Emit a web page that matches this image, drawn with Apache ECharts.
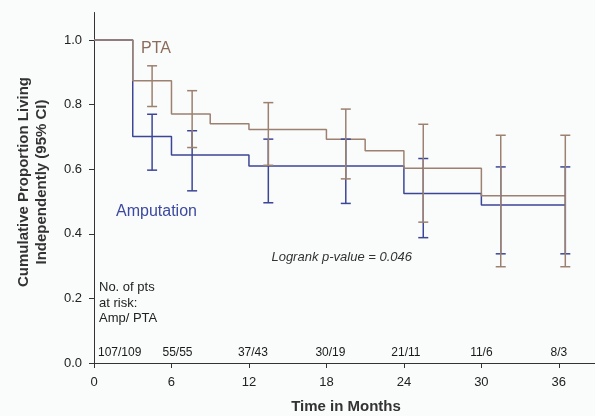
<!DOCTYPE html>
<html>
<head>
<meta charset="utf-8">
<script src="https://cdn.jsdelivr.net/npm/echarts@6/dist/echarts.min.js"></script>
<style>
  html, body { margin: 0; padding: 0; background: #fafbfb; }
  #chart { width: 595px; height: 416px; }
</style>
</head>
<body>
<div id="chart"></div>
<script>
// Kaplan-Meier steps (month, proportion)
var ptaTimes = [0, 3, 6, 9, 12, 18, 21, 24, 30, 36.5];
var ptaSurv = [1.0, 0.874, 0.771, 0.741, 0.723, 0.693, 0.657, 0.603, 0.518, 0.518];
var ampTimes = [0, 3, 6, 12, 24, 30, 36.5];
var ampSurv = [1.0, 0.701, 0.644, 0.610, 0.525, 0.489, 0.489];

// 95% CI bars
var ciMonths = [4.5, 7.6, 13.5, 19.5, 25.5, 31.5, 36.5];
var ptaLow = [0.794, 0.667, 0.612, 0.570, 0.436, 0.298, 0.298];
var ptaHigh = [0.920, 0.843, 0.806, 0.786, 0.739, 0.705, 0.705];
var ampLow = [0.597, 0.533, 0.496, 0.494, 0.388, 0.338, 0.338];
var ampHigh = [0.770, 0.719, 0.693, 0.693, 0.633, 0.607, 0.607];

// patients at risk
var riskMonths = [0, 6, 12, 18, 24, 30, 36];
var riskLabels = ['107/109', '55/55', '37/43', '30/19', '21/11', '11/6', '8/3'];

var xTicks = [0, 6, 12, 18, 24, 30, 36];
var yTicks = [0, 0.2, 0.4, 0.6, 0.8, 1.0];

var ptaColor = '#9c8070';
var ampColor = '#3c4697';
var font = 'Liberation Sans, Arial, sans-serif';
var riskOffsets = [[4, -10, 'left'], [6, -10, 'center'], [4, -10, 'center'], [4, -10, 'center'], [2, -10, 'center'], [0, -10, 'center'], [0, -10, 'center']];

function steps(t, s) {
  return t.map(function (v, i) { return [v, s[i]]; });
}
function ci(lo, hi) {
  return ciMonths.map(function (m, i) { return [m, lo[i], hi[i]]; });
}

function ciBar(color) {
  return function (params, api) {
    var top = api.coord([api.value(0), api.value(2)]);
    var bot = api.coord([api.value(0), api.value(1)]);
    var w = 5;
    var st = { stroke: color, lineWidth: 1.5 };
    return {
      type: 'group',
      children: [
        { type: 'line', shape: { x1: top[0], y1: top[1], x2: bot[0], y2: bot[1] }, style: st },
        { type: 'line', shape: { x1: top[0] - w, y1: top[1], x2: top[0] + w, y2: top[1] }, style: st },
        { type: 'line', shape: { x1: bot[0] - w, y1: bot[1], x2: bot[0] + w, y2: bot[1] }, style: st }
      ]
    };
  };
}

var chart = echarts.init(document.getElementById('chart'));

var option = {
  backgroundColor: '#fafbfb',
  animation: false,
  textStyle: { fontFamily: font },
  grid: { left: 94, right: 0, top: 12.5, bottom: 53 },
  xAxis: {
    type: 'value',
    min: 0,
    max: 38.8,
    axisLine: { lineStyle: { color: '#333', width: 1 } },
    axisTick: { show: true, length: 5, customValues: xTicks, lineStyle: { color: '#333' } },
    axisLabel: { customValues: xTicks, color: '#222', fontSize: 13, margin: 13, fontFamily: font },
    splitLine: { show: false }
  },
  yAxis: {
    type: 'value',
    min: 0,
    max: 1.085,
    axisLine: { show: true, lineStyle: { color: '#333', width: 1 } },
    axisTick: { show: true, length: 5, customValues: yTicks, lineStyle: { color: '#333' } },
    axisLabel: {
      customValues: yTicks, color: '#222', fontSize: 13, margin: 12, fontFamily: font,
      formatter: function (v) { return v.toFixed(1); }
    },
    splitLine: { show: false }
  },
  series: [
    {
      type: 'line', step: 'end', showSymbol: false, data: steps(ampTimes, ampSurv),
      lineStyle: { color: ampColor, width: 1.5 }, z: 2
    },
    {
      type: 'line', step: 'end', showSymbol: false, data: steps(ptaTimes, ptaSurv),
      lineStyle: { color: ptaColor, width: 1.5 }, z: 3
    },
    { type: 'custom', renderItem: ciBar(ampColor), data: ci(ampLow, ampHigh), z: 4 },
    { type: 'custom', renderItem: ciBar(ptaColor), data: ci(ptaLow, ptaHigh), z: 5 },
    {
      type: 'scatter', symbolSize: 0, silent: true, z: 6,
      itemStyle: { color: '#222', opacity: 1 },
      data: riskMonths.map(function (m, i) {
        return {
          value: [m, 0],
          label: {
            show: true, position: 'inside', formatter: riskLabels[i],
            offset: [riskOffsets[i][0], riskOffsets[i][1]], align: riskOffsets[i][2],
            color: '#1a1a1a', opacity: 1, textBorderWidth: 0, fontSize: 12, fontFamily: font
          }
        };
      })
    }
  ],
  graphic: [
    {
      type: 'text', x: 32.5, y: 182, rotation: Math.PI / 2,
      style: {
        text: 'Cumulative Proportion Living\nIndependently (95% CI)',
        fontSize: 15, fontWeight: 'bold', fontFamily: font, fill: '#333',
        align: 'center', verticalAlign: 'middle', lineHeight: 18
      }
    },
    {
      type: 'text', x: 346, y: 407,
      style: {
        text: 'Time in Months', fontSize: 15, fontWeight: 'bold', fontFamily: font,
        fill: '#333', align: 'center', verticalAlign: 'middle'
      }
    },
    {
      type: 'text', x: 141, y: 49,
      style: { text: 'PTA', fontSize: 16, fontFamily: font, fill: '#8c6c5c', verticalAlign: 'middle' }
    },
    {
      type: 'text', x: 116, y: 212,
      style: { text: 'Amputation', fontSize: 16, fontFamily: font, fill: '#3b4aa0', verticalAlign: 'middle' }
    },
    {
      type: 'text', x: 412, y: 257,
      style: {
        text: 'Logrank p-value = 0.046', fontSize: 13, fontStyle: 'italic', fontFamily: font,
        fill: '#333', align: 'right', verticalAlign: 'middle'
      }
    },
    {
      type: 'text', x: 99, y: 303,
      style: {
        text: 'No. of pts\nat risk:\nAmp/ PTA', fontSize: 13, fontFamily: font, fill: '#222',
        verticalAlign: 'middle', lineHeight: 15.5
      }
    }
  ]
};

chart.setOption(option);
</script>
</body>
</html>
